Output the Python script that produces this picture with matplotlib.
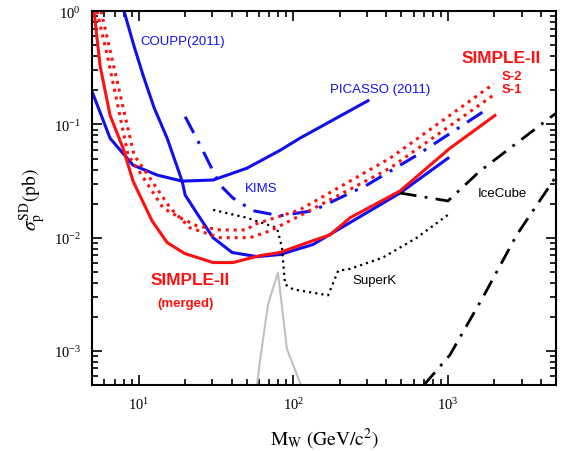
import matplotlib
matplotlib.use("Agg")
import matplotlib.pyplot as plt
from matplotlib.ticker import LogLocator, LogFormatterMathtext, NullFormatter

plt.rcParams['mathtext.fontset'] = 'stix'
plt.rcParams['font.family'] = ['Liberation Sans', 'DejaVu Sans']

# SIMPLE-II merged (red solid)
simple_x = [5.15, 5.63, 6.54, 7.93, 9.2, 12.2, 15.3, 19.9, 30.3, 40.7, 61, 82, 123, 173, 233, 489, 1030, 2014]
simple_y = [1.0, 0.33, 0.12, 0.0616, 0.0316, 0.0141, 0.00904, 0.00724, 0.00603, 0.00603, 0.00695, 0.0074, 0.00904, 0.0106, 0.015, 0.0258, 0.0616, 0.12]
# SIMPLE-II S-2 (red dotted, upper)
s2_x = [5.38, 6.34, 8.55, 9.77, 14.4, 18.5, 23.9, 33.6, 50.2, 55, 110, 422, 1985]
s2_y = [1.0, 0.379, 0.0535, 0.0411, 0.0183, 0.015, 0.0127, 0.0117, 0.0117, 0.013, 0.0176, 0.0503, 0.229]
# SIMPLE-II S-1 (red dotted, lower)
s1_x = [5.72, 6.73, 9.34, 10.7, 16.0, 21.5, 33.6, 52.5, 70.8, 110, 422, 1985]
s1_y = [1.0, 0.379, 0.0535, 0.0411, 0.0183, 0.0122, 0.01, 0.01, 0.0115, 0.0156, 0.0411, 0.183]
# COUPP (2011)
coupp_x = [8.05, 9.3, 10.7, 12.6, 15.3, 19.1, 20, 24.2, 30.3, 40.2, 58.3, 82, 134, 490, 1000]
coupp_y = [1.0, 0.5, 0.27, 0.14, 0.0754, 0.0316, 0.0238, 0.0159, 0.01, 0.0074, 0.0068, 0.0071, 0.0087, 0.0248, 0.0503]
# PICASSO (2011)
picasso_x = [5, 6.54, 9.2, 13.2, 19.1, 30.3, 50.2, 82, 110, 304]
picasso_y = [0.195, 0.0754, 0.0437, 0.0357, 0.0316, 0.0323, 0.0411, 0.059, 0.0754, 0.162]
# KIMS
kims_x = [20, 25, 33.6, 40.7, 55, 82, 134, 300, 630, 1815]
kims_y = [0.117, 0.0655, 0.0292, 0.0224, 0.0173, 0.0156, 0.0173, 0.0292, 0.0535, 0.138]
# SuperK
superk_x = [30.3, 50.1, 78.5, 84.5, 88.5, 99.6, 168, 195, 233, 380, 630, 1000]
superk_y = [0.0176, 0.015, 0.0122, 0.00817, 0.00387, 0.0035, 0.0031, 0.0051, 0.0053, 0.00668, 0.01, 0.0159]
# IceCube (upper)
ice1_x = [490, 1000, 1610, 4780, 5000]
ice1_y = [0.0248, 0.0211, 0.0387, 0.12, 0.125]
# IceCube (lower)
ice2_x = [700, 1030, 1685, 2790, 4780, 5000]
ice2_y = [0.0005, 0.00092, 0.00298, 0.0106, 0.0316, 0.035]
# gray curve
gray_x = [58.3, 61, 68.7, 79.6, 91, 112]
gray_y = [0.0005, 0.00083, 0.00258, 0.00493, 0.00104, 0.0005]

fig = plt.figure(figsize=(5.72, 4.52), dpi=100)
ax = fig.add_axes([0.161, 0.146, 0.811, 0.827])
ax.set_xscale('log')
ax.set_yscale('log')
ax.set_xlim(5, 5000)
ax.set_ylim(5e-4, 1)

blue = '#1010ee'
red = '#ff1010'
ax.plot(gray_x, gray_y, color='#c0c0c0', lw=1.5)
ax.plot(picasso_x, picasso_y, color=blue, lw=2.2)
ax.plot(coupp_x, coupp_y, color=blue, lw=2.2)
ax.plot(kims_x, kims_y, color=blue, lw=2.2, linestyle=(0, (6, 3, 1, 3)))
ax.plot(superk_x, superk_y, color='black', lw=1.6, linestyle=(0, (1, 1.8)))
ax.plot(ice1_x, ice1_y, color='black', lw=2.0, linestyle=(0, (6, 3, 1, 3)))
ax.plot(ice2_x, ice2_y, color='black', lw=2.0, linestyle=(0, (6, 3, 1, 3)))
ax.plot(s2_x, s2_y, color=red, lw=2.2, linestyle=(0, (1, 1.6)))
ax.plot(s1_x, s1_y, color=red, lw=2.2, linestyle=(0, (1, 1.6)))
ax.plot(simple_x, simple_y, color=red, lw=2.2)

# text labels
ax.text(10.2, 0.513, 'COUPP(2011)', color=blue, fontsize=9.5)
ax.text(172, 0.195, 'PICASSO (2011)', color=blue, fontsize=9.5)
ax.text(48.7, 0.0258, 'KIMS', color=blue, fontsize=9.5)
ax.text(1233, 0.357, 'SIMPLE-II', color=red, fontsize=12.4, fontweight='bold')
ax.text(2234, 0.253, 'S-2', color=red, fontsize=9.5, fontweight='bold')
ax.text(2234, 0.195, 'S-1', color=red, fontsize=9.5, fontweight='bold')
ax.text(1563, 0.0233, 'IceCube', color='black', fontsize=9.5)
ax.text(240, 0.00395, 'SuperK', color='black', fontsize=9.5)
ax.text(11.9, 0.0039, 'SIMPLE-II', color=red, fontsize=12.4, fontweight='bold')
ax.text(13.2, 0.0025, '(merged)', color=red, fontsize=9.5, fontweight='bold')

ax.xaxis.set_major_locator(LogLocator(base=10, numticks=10))
ax.yaxis.set_major_locator(LogLocator(base=10, numticks=10))
ax.xaxis.set_minor_locator(LogLocator(base=10, subs=range(2, 10), numticks=20))
ax.yaxis.set_minor_locator(LogLocator(base=10, subs=range(2, 10), numticks=20))
ax.xaxis.set_major_formatter(LogFormatterMathtext())
ax.yaxis.set_major_formatter(LogFormatterMathtext())
ax.xaxis.set_minor_formatter(NullFormatter())
ax.yaxis.set_minor_formatter(NullFormatter())
ax.tick_params(which='both', direction='in', top=True, right=True, width=1.2)
ax.tick_params(which='major', length=7, labelsize=10.5, pad=8, labelfontfamily='Liberation Serif')
ax.tick_params(which='minor', length=4)
for sp in ax.spines.values():
    sp.set_linewidth(1.5)

ax.set_xlabel(r'$\mathrm{M_W\ (GeV/c^2)}$', fontsize=14, labelpad=10)
ax.set_ylabel(r'$\sigma_\mathrm{p}^\mathrm{SD}\mathrm{(pb)}$', fontsize=14, labelpad=4)

fig.savefig('out.png', dpi=100)
